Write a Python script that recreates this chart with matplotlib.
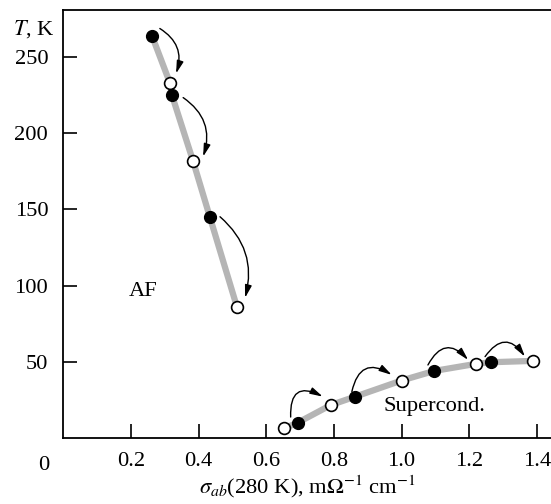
import matplotlib
matplotlib.use("Agg")
import matplotlib.pyplot as plt

plt.rcParams["font.family"] = ["Liberation Serif", "DejaVu Serif"]
plt.rcParams["mathtext.fontset"] = "stix"

# antiferromagnetic branch: filled = before, open = after
af_filled_x = [0.262, 0.321, 0.433]
af_filled_t = [264, 225, 145]
af_open_x = [0.315, 0.383, 0.513]
af_open_t = [233, 182, 86]

# superconducting branch
sc_filled_x = [0.693, 0.863, 1.097, 1.264]
sc_filled_t = [9.9, 27.0, 43.9, 49.6]
sc_open_x = [0.653, 0.791, 1.000, 1.219, 1.390]
sc_open_t = [6.2, 21.5, 37.6, 48.5, 50.5]

# arrows (start x, start T, end x, end T, curvature)
arrows = [
    (0.285, 268.9, 0.333, 239.3, -0.39),
    (0.354, 223.5, 0.413, 184.7, -0.37),
    (0.463, 145.2, 0.537, 91.9, -0.31),
    (0.672, 13.6, 0.767, 27.0, -0.85),
    (0.853, 30.3, 0.971, 41.3, -0.7),
    (1.078, 47.8, 1.197, 51.1, -0.7),
    (1.247, 53.3, 1.365, 53.3, -0.7),
]

x_ticks = [0.2, 0.4, 0.6, 0.8, 1.0, 1.2, 1.4]
x_ticklabels = ["0.2", "0.4", "0.6", "0.8", "1.0", "1.2", "1.4"]
y_ticks = [50, 100, 150, 200, 250]

fs = 16.2

fig = plt.figure(figsize=(5.51, 5.04), dpi=100)
ax = fig.add_axes([0.1152, 0.1315, 0.8848, 0.8485])

gray = "#b5b5b5"
af_line = sorted(zip(af_filled_x + af_open_x, af_filled_t + af_open_t), key=lambda p: -p[1])
sc_line = sorted(zip(sc_filled_x + sc_open_x, sc_filled_t + sc_open_t))
ax.plot([p[0] for p in af_line], [p[1] for p in af_line], color=gray, lw=4.5,
        solid_capstyle="butt", solid_joinstyle="round", zorder=1)
ax.plot([p[0] for p in sc_line], [p[1] for p in sc_line], color=gray, lw=4.5,
        solid_capstyle="butt", solid_joinstyle="round", zorder=1)

ms = 8.5
ax.plot(af_filled_x, af_filled_t, "o", color="black", ms=ms, zorder=3)
ax.plot(sc_filled_x, sc_filled_t, "o", color="black", ms=ms, zorder=3)
ax.plot(af_open_x, af_open_t, "o", mfc="white", mec="black", mew=1.2, ms=ms, zorder=3)
ax.plot(sc_open_x, sc_open_t, "o", mfc="white", mec="black", mew=1.2, ms=ms, zorder=3)

for x0, t0, x1, t1, rad in arrows:
    ax.annotate("", xy=(x1, t1), xytext=(x0, t0),
                arrowprops=dict(arrowstyle="-|>,head_length=0.75,head_width=0.2",
                                color="black", lw=1.0, shrinkA=0, shrinkB=0,
                                connectionstyle=f"arc3,rad={rad}"))

ax.text(0.235, 96, "AF", fontsize=fs, ha="center", va="center")
ax.text(1.096, 20.2, "Supercond.", fontsize=fs, ha="center", va="center")

ax.set_xlim(0, 1.442)
ax.set_ylim(0, 281)
ax.set_xticks(x_ticks)
ax.set_xticklabels(x_ticklabels)
ax.set_yticks(y_ticks)
ax.tick_params(direction="in", length=10, width=1.2, labelsize=fs)
ax.tick_params(axis="x", pad=10)
ax.tick_params(axis="y", pad=11)
ax.spines["right"].set_visible(False)
for s in ("left", "bottom", "top"):
    ax.spines[s].set_linewidth(1.3)

ax.text(-0.04, -0.066, "0", transform=ax.transAxes, fontsize=fs, ha="center", va="center")
ax.text(-0.018, 0.955, r"$T$, K", transform=ax.transAxes, fontsize=fs, ha="right", va="center")
ax.set_xlabel(r"$\sigma_{ab}$(280 K), m$\Omega^{-1}$ cm$^{-1}$", fontsize=fs, labelpad=2)

fig.savefig("out.png", dpi=100)
